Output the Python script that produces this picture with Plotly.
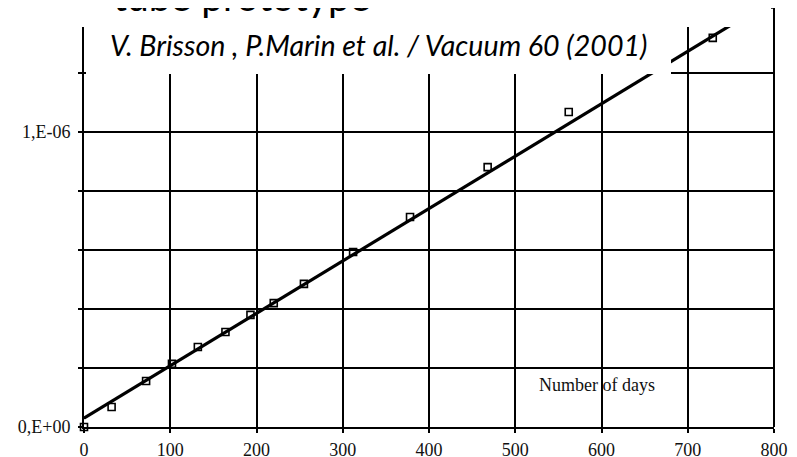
import plotly.graph_objects as go

# ---- data ----
days = [0, 32, 72, 102, 132, 164, 193, 220, 255, 312, 378, 468, 562, 729]
pressure = [0.0, 0.068e-6, 0.156e-6, 0.214e-6, 0.271e-6, 0.322e-6, 0.380e-6,
            0.420e-6, 0.485e-6, 0.593e-6, 0.712e-6, 0.881e-6, 1.068e-6, 1.319e-6]
fit_days = [0, 760]
fit_pressure = [0.03e-6, 1.38e-6]

x_ticks = [0, 100, 200, 300, 400, 500, 600, 700, 800]
x_ticktext = ["0", "100", "200", "300", "400", "500", "600", "700", "800"]
y_ticks = [0.0, 0.2e-6, 0.4e-6, 0.6e-6, 0.8e-6, 1.0e-6, 1.2e-6]
y_ticktext = ["0,E+00", "", "", "", "", "1,E-06", ""]

title_text = "tube prototype"
caption_text = "V. Brisson , P.Marin et al. / Vacuum 60 (2001)"
xlabel_text = "Number of days"

# the page body adds an 8px offset; margins compensate for it
OFF = 8
W, H = 797, 457
L, R, T, B = 76, 31, 0, 38
pw = W - L - R
ph = H - T - B


def py(p):  # screen pixel row -> paper y
    return (H - B - (p - OFF)) / ph


def px(p):  # screen pixel column -> paper x
    return (p - OFF - L) / pw


fig = go.Figure()
fig.add_trace(go.Scatter(x=fit_days, y=fit_pressure, mode="lines",
                         line=dict(color="black", width=3.2), showlegend=False))
fig.add_trace(go.Scatter(x=days, y=pressure, mode="markers", cliponaxis=False,
                         marker=dict(symbol="square-open", size=7,
                                     color="black", line=dict(width=1.6)),
                         showlegend=False))

serif = "Liberation Serif"
fig.update_layout(
    width=W, height=H, autosize=False,
    margin=dict(l=L, r=R, t=T, b=B, pad=0, autoexpand=False),
    paper_bgcolor="white", plot_bgcolor="white",
    xaxis=dict(range=[0, 800], tickvals=x_ticks, ticktext=x_ticktext,
               showgrid=True, gridcolor="black", gridwidth=1.5,
               showline=True, linecolor="black", linewidth=2,
               ticks="outside", ticklen=4, tickwidth=1.5, tickcolor="black",
               zeroline=False, ticklabelstandoff=1, automargin=False,
               tickfont=dict(family=serif, size=18, color="#111")),
    yaxis=dict(range=[0, 1.4203e-6], tickvals=y_ticks, ticktext=y_ticktext,
               showgrid=True, gridcolor="black", gridwidth=1.5,
               showline=True, linecolor="black", linewidth=2,
               ticks="outside", ticklen=4, tickwidth=1.5, tickcolor="black",
               zeroline=False, ticklabelstandoff=4, automargin=False,
               tickfont=dict(family=serif, size=18, color="#111")),
    shapes=[
        # right border
        dict(type="line", xref="paper", yref="paper", x0=1, x1=1, y0=0, y1=1,
             line=dict(color="black", width=2), layer="above"),
        dict(type="line", xref="paper", yref="paper", x0=px(769), x1=1, y0=1, y1=1,
             line=dict(color="black", width=1.5), layer="above"),
        # white band at top
        dict(type="rect", xref="paper", yref="paper", x0=-0.2, x1=px(771),
             y0=py(27), y1=1.1, fillcolor="white", line=dict(width=0), layer="above"),
        # caption box
        dict(type="rect", xref="paper", yref="paper", x0=px(86), x1=px(671),
             y0=py(74), y1=1.1, fillcolor="white", line=dict(width=0), layer="above"),
    ],
    annotations=[
        dict(text=title_text, xref="paper", yref="paper", x=px(111), y=py(-4),
             xanchor="left", yanchor="middle", showarrow=False,
             font=dict(family="Lato", size=39, color="black")),
        dict(text="<i>" + caption_text + "</i>", xref="paper", yref="paper",
             x=px(378), y=py(45), xanchor="center", yanchor="middle", showarrow=False,
             font=dict(family="Lato", size=28.6, color="black")),
        dict(text=xlabel_text, x=595, y=0.142e-6, xref="x", yref="y",
             showarrow=False, xanchor="center", yanchor="middle",
             font=dict(family=serif, size=18, color="#111")),
    ],
)

fig.write_html("out.html")
